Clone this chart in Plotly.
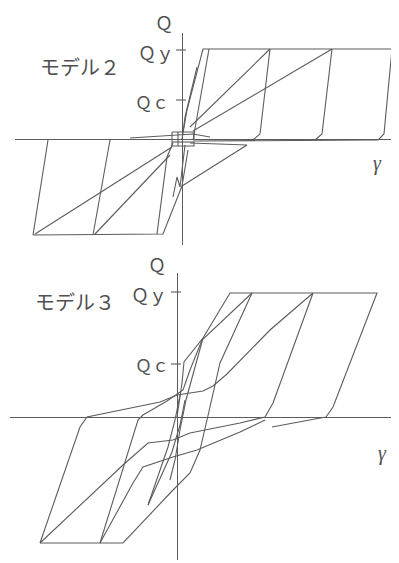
import plotly.graph_objects as go

# ---------------- data (gamma, Q) ----------------
# Model 2 : paths of the hysteresis (gamma units, Q units), Qy ~ 90
m2_gamma = [
    [0, 5, 21, 210, 202, 196, 13],
    [150, 140, 133],
    [88, 78, 71],
    [11, 150],
    [8, 88],
    [11, 27],
    [-149, -19, 0, 6],
    [-149, -134],
    [-89, -72],
    [-25, -15, -9],
    [-147, -10],
    [-87, -12],
    [0, 65, 8],
    [-52, -10, 11, 28],
    [-10, 12, 12, -10, -10],
    [-10, 12],
    [-4, -4],
    [-9, -5, -2, 1, 3],
    [15, 3, 1],
]
m2_Q = [
    [0, 29, 90, 90, 5, -1, -2],
    [90, 5, -1],
    [90, 5, -1],
    [8, 90],
    [12, 90],
    [-1, 90],
    [-96, -95, -47, -11],
    [-96, -1],
    [-96, -1],
    [-95, -18, -4],
    [-95, -8],
    [-95, -16],
    [-47, -6, -4],
    [1, 4, 5, 2],
    [7, 7, -7, -7, 7],
    [-3, -3],
    [7, -7],
    [-58, -38, -48, -24, -6],
    [72, 22, 7],
]

# Model 3 : paths, Qy ~ 124
m3_gamma = [
    [0, 5, 7, 15, 26, 53, 200, 156, 149, 138, 95],
    [136, 96, 88, 63, 13, -4, -29, -54, -137, -97, -90, -57, -17, 0, 26, 36, 50, 93, 136],
    [75, 43, 30, 23, 13, -4, -54, -137],
    [-77, -39, -34, -10, 6, 13, 25, 75],
    [-77, -44, -34, -4, 20, 63, 88],
    [-29, -9, -2, 3],
    [-29, -15, -5, 3, 8],
    [26, 16, 9, 3, -2, -7],
]
m3_Q = [
    [0, 34, 55, 65, 79, 124, 124, 10, 0, -2, -10],
    [124, 14, 0, -6, -16, -23, -26, -48, -126, -10, 0, 7, 15, 22, 26, 31, 43, 87, 124],
    [124, 54, -3, -33, -56, -73, -126, -126],
    [-126, -3, 2, 16, 27, 47, 77, 124],
    [-126, -66, -50, -40, -33, -15, -3],
    [-88, -30, -3, 22],
    [-88, -58, -35, -8, 17],
    [79, 42, 17, -13, -43, -63],
]

tick_labels = ["Ｑｙ", "Ｑｃ"]
m2_ticks = [89, 39]
m3_ticks = [125, 53]
titles = ["モデル２", "モデル３"]

# ---------------- figure ----------------
OFF = 8                      # default page margin of the html body
W, H = 399 - OFF, 563 - OFF
LC = "#5c5c5c"
TC = "#505050"
FONT = "Noto Sans CJK JP"


def fx(px):
    return (px - OFF) / W


def fy(py):
    return 1 - (py - OFF) / H


def join(gs, qs):
    X, Y = [], []
    for g, q in zip(gs, qs):
        X += g + [None]
        Y += q + [None]
    return X, Y


fig = go.Figure()
x2, y2 = join(m2_gamma, m2_Q)
x3, y3 = join(m3_gamma, m3_Q)
fig.add_trace(go.Scatter(x=x2, y=y2, mode="lines", line=dict(color=LC, width=1.1),
                         xaxis="x", yaxis="y", hoverinfo="skip", showlegend=False))
fig.add_trace(go.Scatter(x=x3, y=y3, mode="lines", line=dict(color=LC, width=1.1),
                         xaxis="x2", yaxis="y2", hoverinfo="skip", showlegend=False))

axcommon = dict(showgrid=False, showticklabels=False, ticks="", showline=False,
                zeroline=True, zerolinecolor=LC, zerolinewidth=1.1, fixedrange=True)

fig.update_layout(
    width=W, height=H,
    margin=dict(l=0, r=0, t=0, b=0),
    paper_bgcolor="white", plot_bgcolor="white",
    xaxis=dict(domain=[fx(15), 1], range=[-167, 217], anchor="y", **axcommon),
    yaxis=dict(domain=[fy(245), fy(33)], range=[-106, 106], anchor="x", **axcommon),
    xaxis2=dict(domain=[fx(10), 1], range=[-167, 222], anchor="y2", **axcommon),
    yaxis2=dict(domain=[fy(560), fy(273)], range=[-143, 144], anchor="x2", **axcommon),
)

# tick marks on the Q axis
for xr, yr, ticks in (("x", "y", m2_ticks), ("x2", "y2", m3_ticks)):
    for t in ticks:
        fig.add_shape(type="line", xref=xr, yref=yr, x0=-6, x1=4, y0=t, y1=t,
                      line=dict(color=LC, width=1.1))


def ann(text, px, py, size, anchor="center", font=FONT):
    fig.add_annotation(text=text, x=fx(px), y=fy(py), xref="paper", yref="paper",
                       showarrow=False, xanchor=anchor, yanchor="middle",
                       font=dict(family=font, size=size, color=TC))


# panel 1 texts
ann("Ｑ", 164, 22, 18)
ann(tick_labels[0], 176, 52, 18, "right")
ann(tick_labels[1], 171, 101, 17, "right")
ann(titles[0], 80, 66, 20)
ann("<i>γ</i>", 377, 163, 20, font="Liberation Serif")
# panel 2 texts
ann("Ｑ", 157, 264, 18)
ann(tick_labels[0], 169, 294, 18, "right")
ann(tick_labels[1], 171, 364, 17, "right")
ann(titles[1], 75, 301, 20)
ann("<i>γ</i>", 382, 453, 20, font="Liberation Serif")

fig.write_html("out.html")
